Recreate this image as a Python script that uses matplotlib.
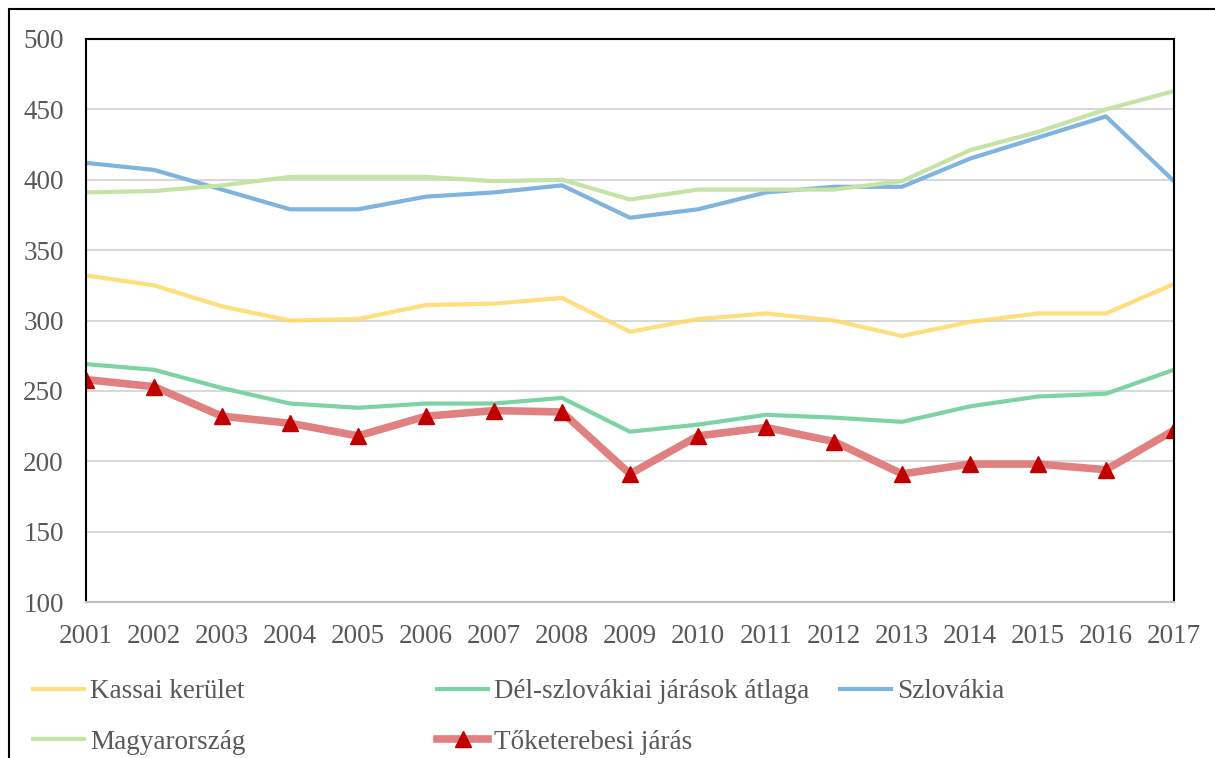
import matplotlib.pyplot as plt
from matplotlib.patches import Rectangle

years = list(range(2001, 2018))
kassai = [332, 325, 310, 300, 301, 311, 312, 316, 292, 301, 305, 300, 289, 299, 305, 305, 326]
del_szlovak = [269, 265, 252, 241, 238, 241, 241, 245, 221, 226, 233, 231, 228, 239, 246, 248, 265]
szlovakia = [412, 407, 393, 379, 379, 388, 391, 396, 373, 379, 391, 395, 395, 415, 430, 445, 399]
magyar = [391, 392, 396, 402, 402, 402, 399, 400, 386, 393, 393, 393, 399, 421, 434, 450, 463]
toketerebes = [258, 253, 232, 227, 218, 232, 236, 235, 191, 218, 224, 214, 191, 198, 198, 194, 222]

plt.rcParams['font.family'] = ['Liberation Serif', 'DejaVu Serif']
gray = '#595959'
W, H = 1215, 758

fig = plt.figure(figsize=(12.15, 7.58), dpi=100)
ax = fig.add_axes([86/W, 1-602/H, (1174-86)/W, (602-39)/H])

l1, = ax.plot(years, kassai, color='#FFD966', lw=3, alpha=0.85, label='Kassai kerület')
l2, = ax.plot(years, del_szlovak, color='#7DD3A3', lw=3, label='Dél-szlovákiai járások átlaga')
l3, = ax.plot(years, szlovakia, color='#7EB4DE', lw=3, label='Szlovákia')
l4, = ax.plot(years, magyar, color='#C6E3A6', lw=3, label='Magyarország')
l5, = ax.plot(years, toketerebes, color='#E08080', lw=5.5, marker='^', ms=12,
              mfc='#C00000', mec='#C00000', label='Tőketerebesi járás')

ax.set_xlim(2001, 2017)
ax.set_ylim(100, 500)
ax.set_xticks(years)
ax.set_yticks(range(100, 501, 50))
ax.grid(axis='y', color='#D9D9D9', lw=1.5)
ax.set_axisbelow(True)
ax.tick_params(length=0, labelsize=19.5, colors=gray)
ax.tick_params(axis='y', pad=16)
ax.tick_params(axis='x', pad=16)
for s in ['left', 'top', 'right']:
    ax.spines[s].set_color('black')
    ax.spines[s].set_linewidth(1.5)
ax.spines['bottom'].set_color('#BFBFBF')
ax.spines['bottom'].set_linewidth(1.5)

# legend laid out row by row in three fixed columns
columns = [([l1, l4], 33), ([l2, l5], 437), ([l3], 840)]
for hs, x in columns:
    leg = fig.legend(hs, [h.get_label() for h in hs], loc='upper left',
                     bbox_to_anchor=(x/W, 1-679/H), frameon=False,
                     fontsize=19.5, handlelength=1.9, handletextpad=0.2,
                     labelspacing=0.95, borderpad=0, borderaxespad=0)
    for t in leg.get_texts():
        t.set_color(gray)

# figure border (cropped on right/bottom)
fig.patches.append(Rectangle((8.5/W, -0.1), 1.2, 1-9/H+0.1,
                             transform=fig.transFigure, fill=False,
                             edgecolor='black', lw=1.5))

fig.savefig('out.png', dpi=100)
